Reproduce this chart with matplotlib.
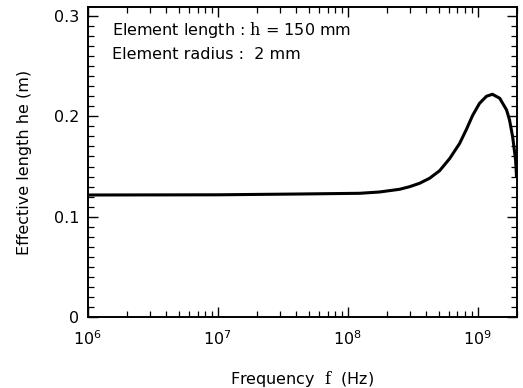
import matplotlib
matplotlib.use('Agg')
import matplotlib.pyplot as plt
from matplotlib.ticker import LogLocator, MultipleLocator, FixedLocator, FuncFormatter

FONT_SIZE = 11.5
plt.rcParams['font.family'] = ['DejaVu Sans']
plt.rcParams['mathtext.fontset'] = 'dejavuserif'

# effective length of the element vs. frequency
freq = [1e6, 1e7, 4.3e7, 1.24e8, 1.76e8, 2.51e8, 3.0e8, 3.58e8, 4.27e8, 5.1e8,
        6.1e8, 7.27e8, 8.2e8, 9.16e8, 1.035e9, 1.17e9, 1.30e9, 1.48e9,
        1.67e9, 1.76e9, 1.86e9, 1.96e9, 1.995e9]
he = [0.1216, 0.1218, 0.1226, 0.1233, 0.1246, 0.1273, 0.1299, 0.1333, 0.1383,
      0.1458, 0.1580, 0.1730, 0.1870, 0.2010, 0.2130, 0.2200, 0.2220,
      0.2180, 0.2064, 0.1964, 0.1798, 0.1565, 0.1386]

y_ticks = [0, 0.1, 0.2, 0.3]
x_ticks = [1e6, 1e7, 1e8, 1e9]


def main():
    fig = plt.figure(figsize=(5.23, 3.88), dpi=100)
    ax = fig.add_axes([0.168, 0.183, 0.820, 0.799])
    ax.plot(freq, he, color='black', linewidth=2.2, solid_capstyle='butt',
            solid_joinstyle='round')

    ax.set_xscale('log')
    ax.set_xlim(1e6, 2.0e9)
    ax.set_ylim(0, 0.309)

    ax.xaxis.set_major_locator(FixedLocator(x_ticks))
    ax.xaxis.set_minor_locator(LogLocator(base=10, subs=range(2, 10)))
    ax.yaxis.set_major_locator(FixedLocator(y_ticks))
    ax.yaxis.set_minor_locator(MultipleLocator(0.01))
    ax.yaxis.set_major_formatter(FuncFormatter(lambda v, p: '0' if v == 0 else f'{v:.1f}'))

    ax.tick_params(which='both', direction='in', top=True, right=True, labelsize=FONT_SIZE)
    ax.tick_params(which='major', length=7, width=1.0)
    ax.tick_params(axis='x', which='major', pad=9)
    ax.tick_params(axis='y', which='major', pad=6)
    ax.tick_params(which='minor', length=4, width=0.9)
    for s in ax.spines.values():
        s.set_linewidth(1.4)

    ax.set_xlabel(r'Frequency  $\mathrm{f}$  (Hz)', fontsize=FONT_SIZE, labelpad=15)
    ax.set_ylabel('Effective length he (m)', fontsize=FONT_SIZE, labelpad=16)

    ax.text(0.057, 0.925, r'Element length : $\mathrm{h}$ = 150 mm',
            transform=ax.transAxes, fontsize=FONT_SIZE, va='center')
    ax.text(0.057, 0.848, 'Element radius :  2 mm',
            transform=ax.transAxes, fontsize=FONT_SIZE, va='center')

    fig.savefig('out.png', dpi=100)


if __name__ == '__main__':
    main()
